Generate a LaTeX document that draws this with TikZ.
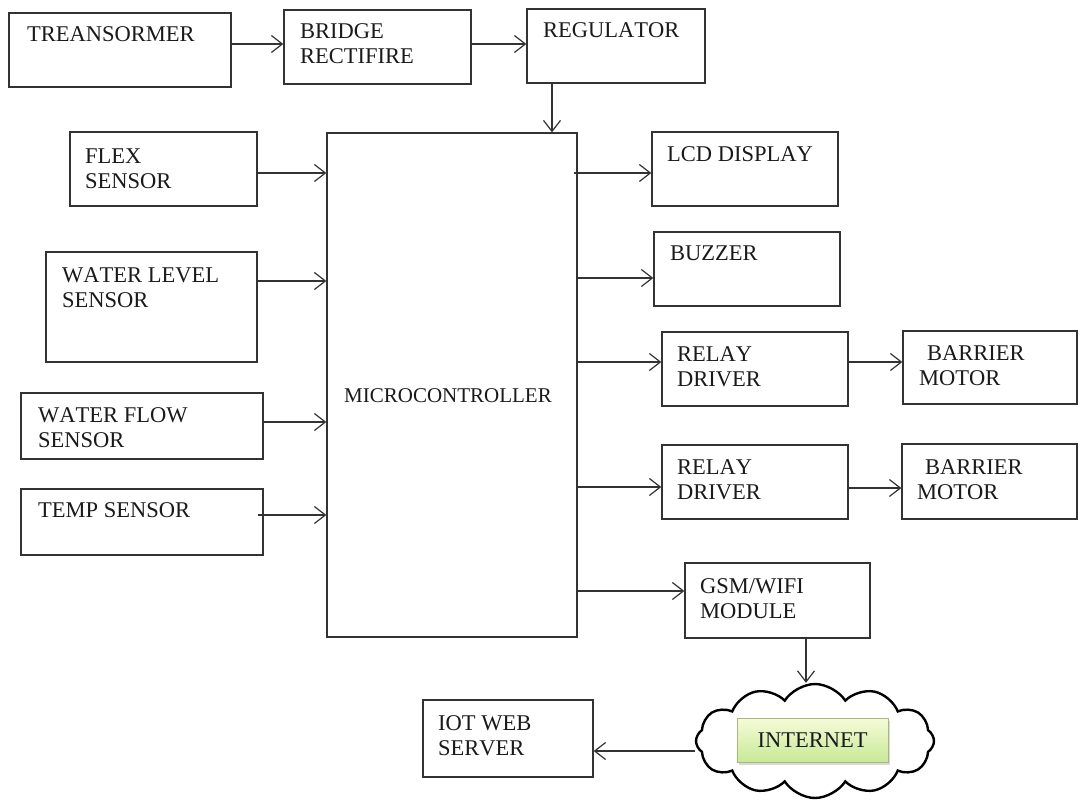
\documentclass[tikz,border=0pt]{standalone}
\usepackage{fontspec}
\setmainfont[Kerning=Off]{Liberation Serif}
\usetikzlibrary{arrows.meta,fit,shapes.symbols,shadows}
\definecolor{linec}{HTML}{333333}
\definecolor{txtc}{HTML}{1A1A1A}
\definecolor{netTop}{HTML}{F5FBD8}
\definecolor{netBot}{HTML}{C8E996}
\definecolor{netBorder}{HTML}{A8B87E}
\newcommand\tl[1]{\begin{tabular}[t]{@{}l@{}}#1\end{tabular}}
\begin{document}
\begin{tikzpicture}[x=1pt,y=-1pt,
  box/.style={draw=linec,line width=1.3pt,inner sep=0pt},
  lbl/.style={anchor=base west,inner sep=0pt,text=txtc,font=\fontsize{22.5}{25.5}\selectfont},
  arr/.style={draw=linec,line width=1.2pt,line join=miter,-{Straight Barb[length=11pt,width=17pt]}}]
\useasboundingbox[fill=white] (0,0) rectangle (1080,804);

% power chain
\node[box,fit={(9,13)(231,87)}] (trans) {};
\node[lbl] (trans-t) at (27,41) {TREANSORMER};
\node[box,fit={(284,10)(471,84)}] (bridge) {};
\node[lbl] (bridge-t) at (300,38) {\tl{BRIDGE\\RECTIFIRE}};
\node[box,fit={(527,9)(705,83)}] (reg) {};
\node[lbl] (reg-t) at (543,37) {REGULATOR};

% microcontroller
\node[box,fit={(327,133)(577,637)}] (micro) {};
\node[anchor=base,inner sep=0pt,text=txtc,font=\fontsize{21}{24}\selectfont] (micro-t) at (448,402) {MICROCONTROLLER};

% inputs
\node[box,fit={(70,132)(257,206)}] (flex) {};
\node[lbl] (flex-t) at (85,163) {\tl{FLEX\\SENSOR}};
\node[box,fit={(46,252)(257,362)}] (wlevel) {};
\node[lbl] (wlevel-t) at (62,282) {\tl{WATER LEVEL\\SENSOR}};
\node[box,fit={(21,393)(263,459)}] (wflow) {};
\node[lbl] (wflow-t) at (38,422) {\tl{WATER FLOW\\SENSOR}};
\node[box,fit={(21,489)(263,555)}] (temp) {};
\node[lbl] (temp-t) at (38,517) {TEMP SENSOR};

% outputs
\node[box,fit={(652,132)(838,206)}] (lcd) {};
\node[lbl] (lcd-t) at (667,161) {LCD DISPLAY};
\node[box,fit={(654,232)(840,306)}] (buzz) {};
\node[lbl] (buzz-t) at (670,260) {BUZZER};
\node[box,fit={(662,332)(848,406)}] (relay1) {};
\node[lbl] (relay1-t) at (677,361) {\tl{RELAY\\DRIVER}};
\node[box,fit={(903,331)(1077,404)}] (motor1) {};
\node[lbl] (motor1-t) at (919,360) {\tl{\hspace{8pt}BARRIER\\MOTOR}};
\node[box,fit={(662,445)(848,519)}] (relay2) {};
\node[lbl] (relay2-t) at (677,474) {\tl{RELAY\\DRIVER}};
\node[box,fit={(902,444)(1077,519)}] (motor2) {};
\node[lbl] (motor2-t) at (917,474) {\tl{\hspace{8pt}BARRIER\\MOTOR}};
\node[box,fit={(685,563)(870,638)}] (gsm) {};
\node[lbl] (gsm-t) at (700,593) {\tl{GSM/WIFI\\MODULE}};

% internet cloud
\node[cloud,cloud puffs=12,cloud puff arc=115,aspect=2.05,draw=black,line width=2.4pt,
      minimum width=238pt,minimum height=114pt,inner sep=0pt] (inet) at (815,741) {};
\node[draw=netBorder,line width=0.8pt,top color=netTop,bottom color=netBot,
      drop shadow={opacity=0.3,shadow xshift=2pt,shadow yshift=-2.5pt},
      minimum width=151pt,minimum height=44pt,inner sep=0pt,text=txtc,
      font=\fontsize{22.5}{25.5}\selectfont] (net) at (812.5,740) {INTERNET};

\node[box,fit={(423,700)(593,777)}] (iot) {};
\node[lbl] (iot-t) at (438,730) {\tl{IOT WEB\\SERVER}};

% connectors
\draw[arr] (trans.east |- 0,44) -- (bridge.west |- 0,44);
\draw[arr] (bridge.east |- 0,44) -- (reg.west |- 0,44);
\draw[arr] (reg.south -| 552,0) -- (micro.north -| 552,0);
\draw[arr] (flex.east |- 0,173) -- (micro.west |- 0,173);
\draw[arr] (wlevel.east |- 0,281) -- (micro.west |- 0,281);
\draw[arr] (wflow.east |- 0,422) -- (micro.west |- 0,422);
\draw[arr] ([xshift=-6pt]temp.east |- 0,515) -- (micro.west |- 0,515);
\draw[arr] ([xshift=-4pt]micro.east |- 0,173) -- (lcd.west |- 0,173);
\draw[arr] (micro.east |- 0,278) -- (buzz.west |- 0,278);
\draw[arr] (micro.east |- 0,362) -- (relay1.west |- 0,362);
\draw[arr] (relay1.east |- 0,362) -- (motor1.west |- 0,362);
\draw[arr] (micro.east |- 0,487) -- (relay2.west |- 0,487);
\draw[arr] (relay2.east |- 0,488) -- (motor2.west |- 0,488);
\draw[arr] (micro.east |- 0,591) -- (gsm.west |- 0,591);
\draw[arr] (gsm.south -| 806,0) -- (inet.north -| 806,0);
\draw[arr] (inet.west |- 0,751) -- (iot.east |- 0,751);
\end{tikzpicture}
\end{document}
